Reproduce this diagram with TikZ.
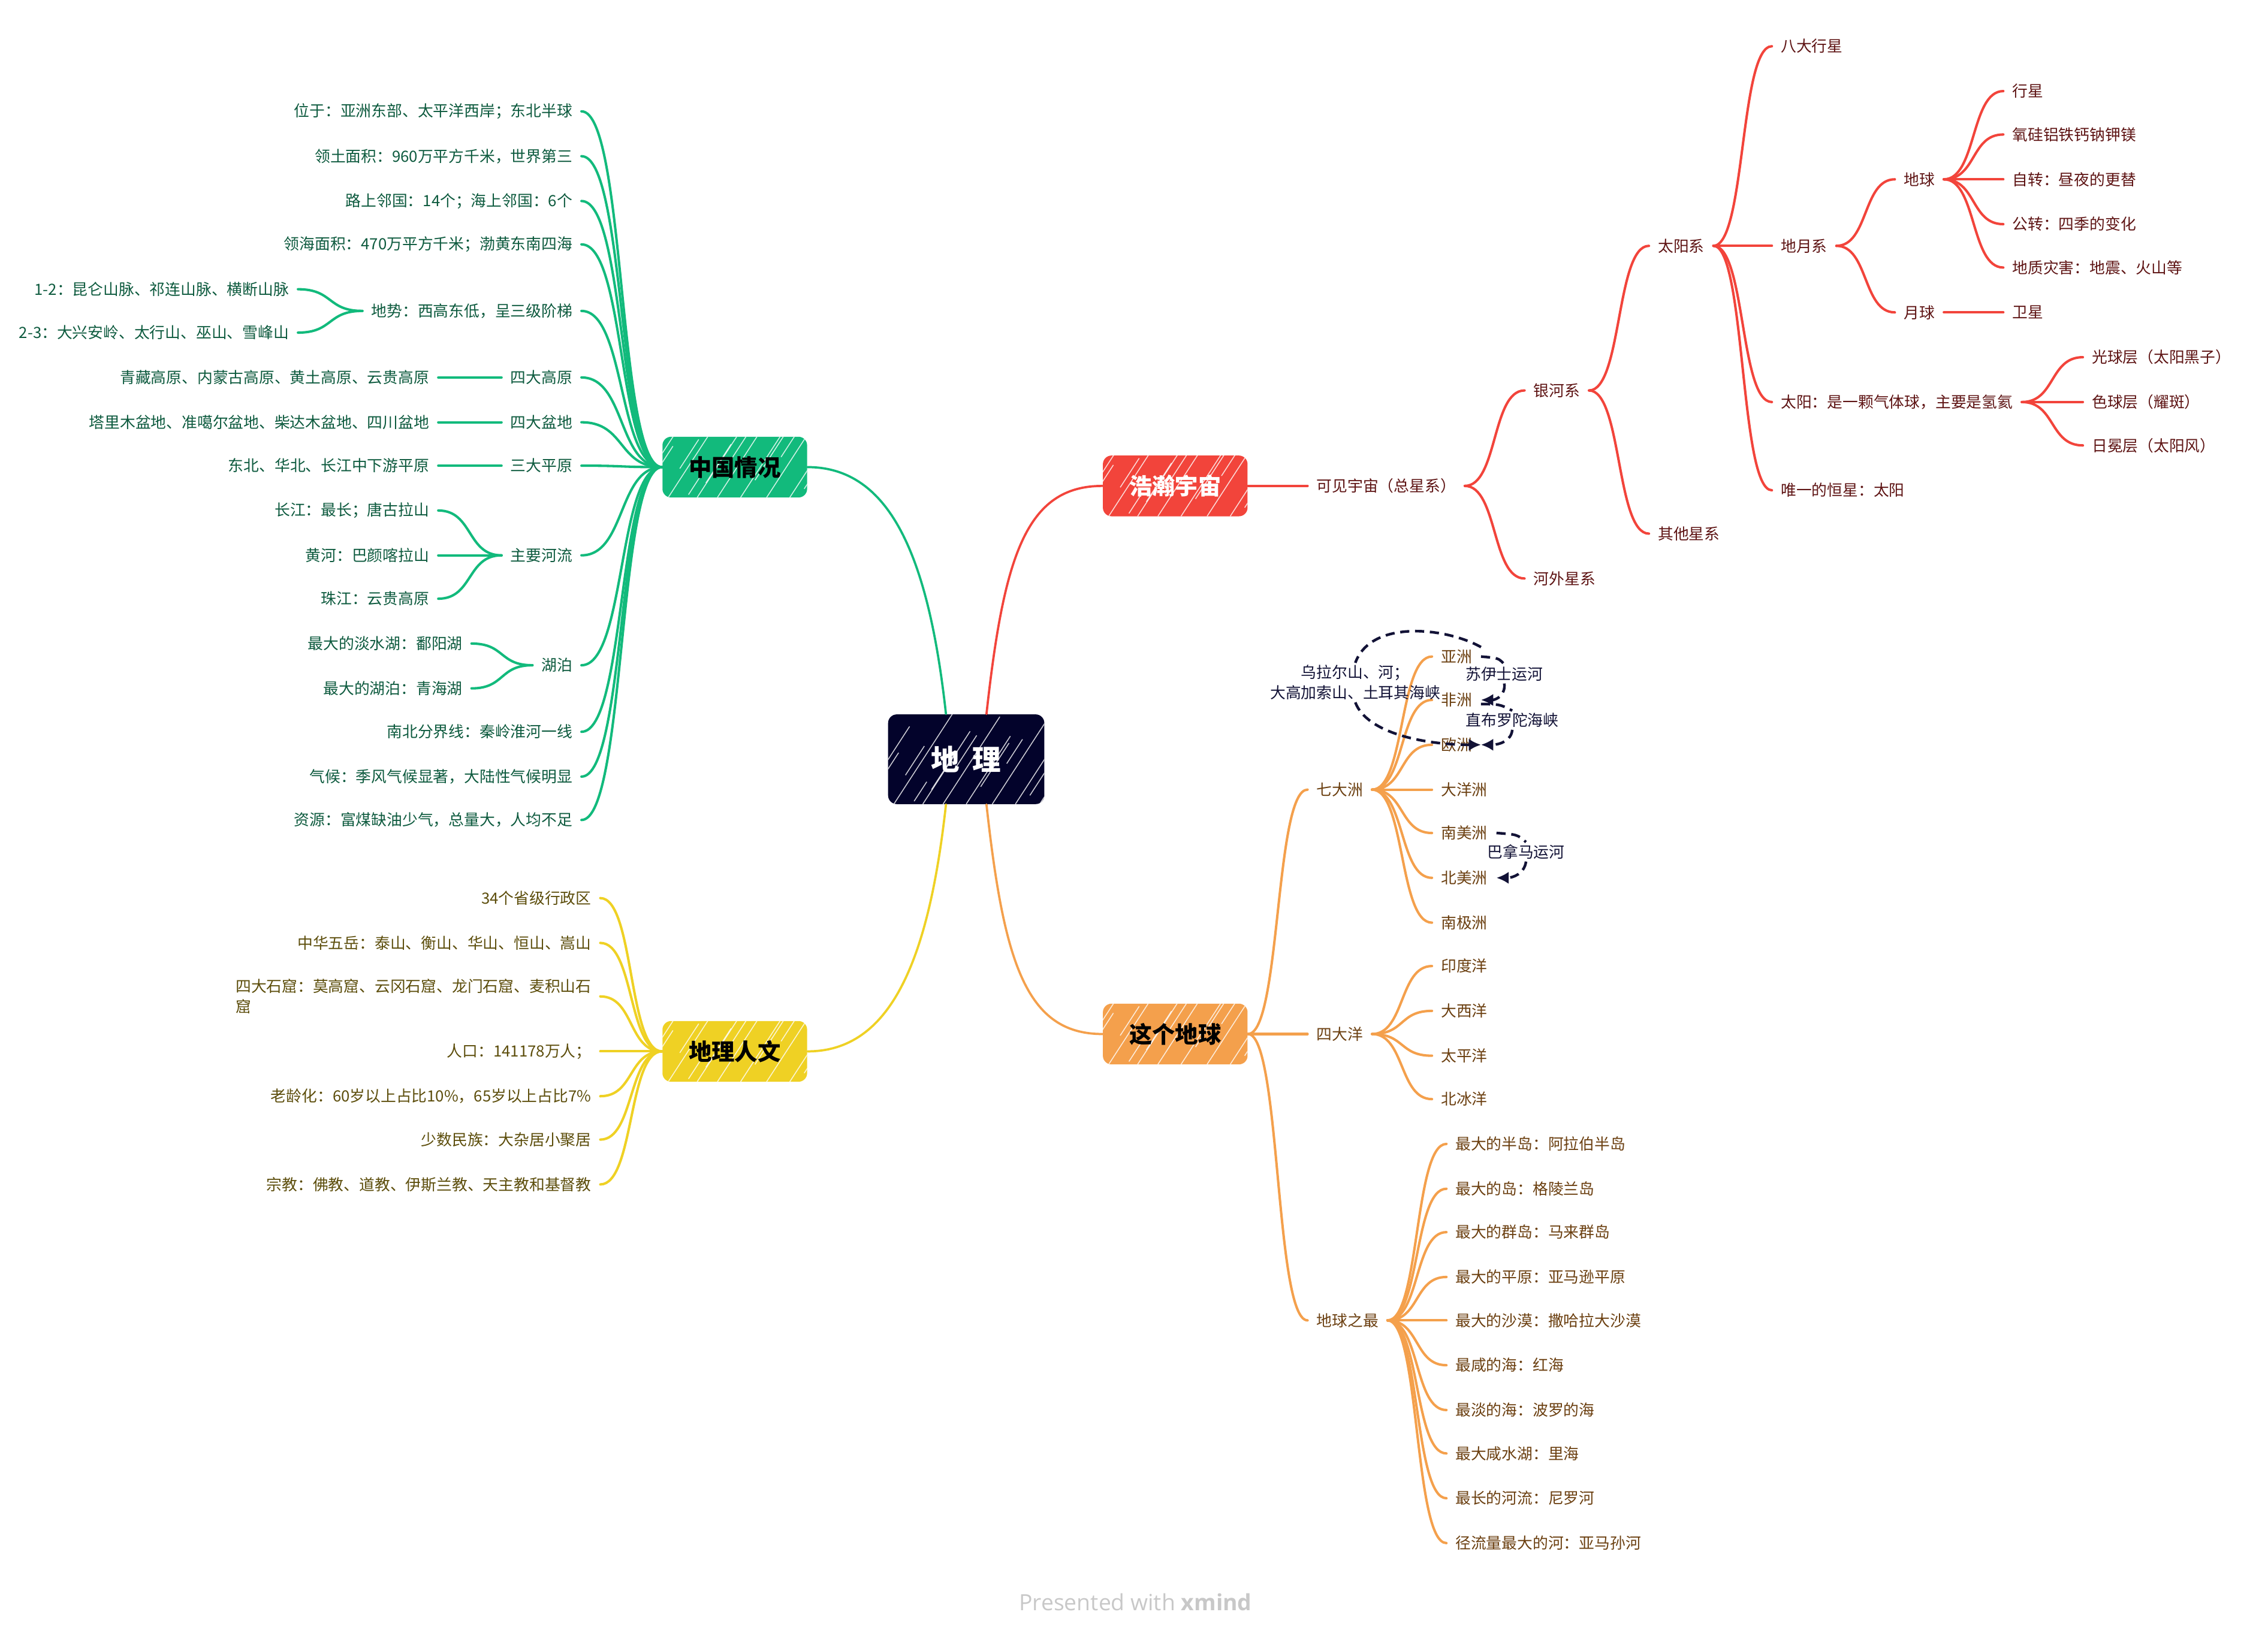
\documentclass[tikz,border=0pt]{standalone}
\usepackage{fontspec}
\usepackage{xcolor}
\usepackage{tikz}
\usetikzlibrary{arrows.meta, calc}
\setmainfont{Noto Sans CJK SC}
\newfontfamily\creditfont{Open Sans}
\definecolor{geonavy}{HTML}{03032B}
\definecolor{geogreen}{HTML}{12BA7C}
\definecolor{geored}{HTML}{F2443B}
\definecolor{geoorange}{HTML}{F4A04C}
\definecolor{geoyellow}{HTML}{EFD124}
\definecolor{greentext}{HTML}{0D5A3E}
\definecolor{redtext}{HTML}{5E1414}
\definecolor{orangetext}{HTML}{6B3F10}
\definecolor{yellowtext}{HTML}{5C4D0B}
\definecolor{relnavy}{HTML}{121236}
\definecolor{creditgray}{HTML}{C8C8C8}
\newcommand{\leaffont}{\fontsize{7.6}{10}\selectfont}
\tikzstyle{hatch} = [path picture={
    \foreach \s/\t/\l in {-0.5/0/1.6, -0.2/0.3/0.7, 0.1/0/1.9, 0.3/0.5/0.6, 0.45/0.05/0.4, 0.6/0/1.5, 0.75/0.25/0.8, 0.95/0/1.8, 1.15/0.6/0.7, 1.35/0/1.4, 1.6/0.3/0.9, 1.8/0/1.9, 2.05/0.7/0.5, 2.2/0/1.1, 2.45/0.15/0.7, 2.62/0/0.6}
        \draw[white, line width=0.45pt, opacity=0.8] ([xshift=\s cm, yshift=\t cm]path picture bounding box.south west) -- ++(57:\l cm);
}]
\tikzstyle{topic} = [rounded corners=0.15cm, minimum width=2.5cm, minimum height=1.05cm, inner sep=0pt, font=\fontsize{11.3}{13}\selectfont\bfseries, hatch]
\tikzstyle{leaf} = [inner xsep=4.25pt, inner ysep=1pt, font=\leaffont]
\tikzstyle{gleaf} = [leaf, anchor=east, text=greentext]
\tikzstyle{yleaf} = [leaf, anchor=east, text=yellowtext]
\tikzstyle{rleaf} = [leaf, anchor=west, text=redtext]
\tikzstyle{oleaf} = [leaf, anchor=west, text=orangetext]
\tikzstyle{twig} = [to path={let \p1=(\tikztostart), \p2=(\tikztotarget) in .. controls ({\x1+0.55*(\x2-\x1)},\y1) and ({\x1+0.45*(\x2-\x1)},\y2) .. (\tikztotarget)}]
\tikzstyle{gline} = [draw=geogreen, line width=1.2pt, line cap=round]
\tikzstyle{yline} = [draw=geoyellow, line width=1.2pt, line cap=round]
\tikzstyle{rline} = [draw=geored, line width=1.2pt, line cap=round]
\tikzstyle{oline} = [draw=geoorange, line width=1.2pt, line cap=round]
\tikzstyle{rel} = [draw=relnavy, line width=1.3pt, dash pattern=on 4.5pt off 2.8pt]
\tikzstyle{reltip} = [-{Latex[length=6pt,width=6pt]}]
\tikzstyle{reltxt} = [text=relnavy, font=\leaffont, inner sep=1pt, align=center]

\begin{document}
\begin{tikzpicture}[x=0.025cm, y=-0.025cm]
    \useasboundingbox (0,0) rectangle (1568,1129);

    \node[topic, fill=geonavy, text=white, minimum width=2.7cm, minimum height=1.55cm, font=\fontsize{14}{16}\selectfont\bfseries] (geo) at (668,525) {地\hspace{0.45em}理};
    \node[topic, fill=geogreen, text=black] (china) at (508,323) {中国情况};
    \node[topic, fill=geoyellow, text=black] (human) at (508,727) {地理人文};
    \node[topic, fill=geored, text=white] (cosmos) at (812.5,336) {浩瀚宇宙};
    \node[topic, fill=geoorange, text=black] (earth) at (812.5,715) {这个地球};

    \draw[gline, line width=1.1pt] ([xshift=-0.35cm]geo.north) .. controls +(-0.3cm,2.725cm) and +(1.425cm,0) .. (china.east);
    \draw[rline, line width=1.1pt] ([xshift=0.35cm]geo.north) .. controls +(0.3cm,2.725cm) and +(-1.325cm,0) .. (cosmos.west);
    \draw[yline, line width=1.1pt] ([xshift=-0.35cm]geo.south) .. controls +(-0.3cm,-2.725cm) and +(1.425cm,0) .. (human.east);
    \draw[oline, line width=1.1pt] ([xshift=0.35cm]geo.south) .. controls +(0.3cm,-2.725cm) and +(-1.325cm,0) .. (earth.west);

    % 中国情况
    \node[gleaf] (g1) at (402,77) {位于：亚洲东部、太平洋西岸；东北半球};
    \node[gleaf] (g2) at (402,108) {领土面积：960万平方千米，世界第三};
    \node[gleaf] (g3) at (402,139) {路上邻国：14个；海上邻国：6个};
    \node[gleaf] (g4) at (402,169) {领海面积：470万平方千米；渤黄东南四海};
    \node[gleaf] (g5) at (402,215) {地势：西高东低，呈三级阶梯};
    \node[gleaf] (g6) at (402,261) {四大高原};
    \node[gleaf] (g7) at (402,292) {四大盆地};
    \node[gleaf] (g8) at (402,322) {三大平原};
    \node[gleaf] (g9) at (402,384) {主要河流};
    \node[gleaf] (g10) at (402,460) {湖泊};
    \node[gleaf] (g11) at (402,506) {南北分界线：秦岭淮河一线};
    \node[gleaf] (g12) at (402,537) {气候：季风气候显著，大陆性气候明显};
    \node[gleaf] (g13) at (402,567) {资源：富煤缺油少气，总量大，人均不足};
    \node[gleaf] (g5a) at (206,200) {1-2：昆仑山脉、祁连山脉、横断山脉};
    \node[gleaf] (g5b) at (206,230) {2-3：大兴安岭、太行山、巫山、雪峰山};
    \node[gleaf] (g6a) at (303,261) {青藏高原、内蒙古高原、黄土高原、云贵高原};
    \node[gleaf] (g7a) at (303,292) {塔里木盆地、准噶尔盆地、柴达木盆地、四川盆地};
    \node[gleaf] (g8a) at (303,322) {东北、华北、长江中下游平原};
    \node[gleaf] (g9a) at (303,353) {长江：最长；唐古拉山};
    \node[gleaf] (g9b) at (303,384) {黄河：巴颜喀拉山};
    \node[gleaf] (g9c) at (303,414) {珠江：云贵高原};
    \node[gleaf] (g10a) at (326,445) {最大的淡水湖：鄱阳湖};
    \node[gleaf] (g10b) at (326,476) {最大的湖泊：青海湖};
    \foreach \k in {g1,g2,g3,g4,g5,g6,g7,g8,g9,g10,g11,g12,g13}
        \draw[gline] (china.west) to[twig] (\k.east);
    \foreach \a/\b in {g5/g5a, g5/g5b, g6/g6a, g7/g7a, g8/g8a, g9/g9a, g9/g9b, g9/g9c, g10/g10a, g10/g10b}
        \draw[gline] (\a.west) to[twig] (\b.east);

    % 地理人文
    \node[yleaf] (y1) at (415,621) {34个省级行政区};
    \node[yleaf] (y2) at (415,652) {中华五岳：泰山、衡山、华山、恒山、嵩山};
    \node[yleaf, align=left] (y3) at (415,689) {四大石窟：莫高窟、云冈石窟、龙门石窟、麦积山石\\窟};
    \node[yleaf] (y4) at (415,727) {人口：141178万人；};
    \node[yleaf] (y5) at (415,758) {老龄化：60岁以上占比10\%，65岁以上占比7\%};
    \node[yleaf] (y6) at (415,788) {少数民族：大杂居小聚居};
    \node[yleaf] (y7) at (415,819) {宗教：佛教、道教、伊斯兰教、天主教和基督教};
    \foreach \k in {y1,y2,y3,y4,y5,y6,y7}
        \draw[yline] (human.west) to[twig] (\k.east);

    % 浩瀚宇宙
    \node[rleaf] (r1) at (904,336) {可见宇宙（总星系）};
    \node[rleaf] (r2) at (1054,270) {银河系};
    \node[rleaf] (r3) at (1054,400) {河外星系};
    \node[rleaf] (r4) at (1140,170) {太阳系};
    \node[rleaf] (r5) at (1140,369) {其他星系};
    \node[rleaf] (r6) at (1225,32) {八大行星};
    \node[rleaf] (r7) at (1225,170) {地月系};
    \node[rleaf] (r8) at (1225,278) {太阳：是一颗气体球，主要是氢氦};
    \node[rleaf] (r9) at (1225,339) {唯一的恒星：太阳};
    \node[rleaf] (r10) at (1310,124) {地球};
    \node[rleaf] (r11) at (1310,216) {月球};
    \node[rleaf] (r12) at (1385,63) {行星};
    \node[rleaf] (r13) at (1385,93) {氧硅铝铁钙钠钾镁};
    \node[rleaf] (r14) at (1385,124) {自转：昼夜的更替};
    \node[rleaf] (r15) at (1385,155) {公转：四季的变化};
    \node[rleaf] (r16) at (1385,185) {地质灾害：地震、火山等};
    \node[rleaf] (r17) at (1385,216) {卫星};
    \node[rleaf] (r18) at (1440,247) {光球层（太阳黑子）};
    \node[rleaf] (r19) at (1440,278) {色球层（耀斑）};
    \node[rleaf] (r20) at (1440,308) {日冕层（太阳风）};
    \draw[rline] (cosmos.east) to[twig] (r1.west);
    \foreach \a/\b in {r1/r2, r1/r3, r2/r4, r2/r5, r4/r6, r4/r7, r4/r8, r4/r9, r7/r10, r7/r11, r10/r12, r10/r13, r10/r14, r10/r15, r10/r16, r11/r17, r8/r18, r8/r19, r8/r20}
        \draw[rline] (\a.east) to[twig] (\b.west);

    % 这个地球
    \node[oleaf] (o1) at (904,546) {七大洲};
    \node[oleaf] (o2) at (904,715) {四大洋};
    \node[oleaf] (o3) at (904,913) {地球之最};
    \node[oleaf] (asia) at (990,454) {亚洲};
    \node[oleaf] (africa) at (990,484) {非洲};
    \node[oleaf] (europe) at (990,515) {欧洲};
    \node[oleaf] (oceania) at (990,546) {大洋洲};
    \node[oleaf] (samerica) at (990,576) {南美洲};
    \node[oleaf] (namerica) at (990,607) {北美洲};
    \node[oleaf] (antarctica) at (990,638) {南极洲};
    \node[oleaf] (indian) at (990,668) {印度洋};
    \node[oleaf] (atlantic) at (990,699) {大西洋};
    \node[oleaf] (pacific) at (990,730) {太平洋};
    \node[oleaf] (arctic) at (990,760) {北冰洋};
    \node[oleaf] (m1) at (1000,791) {最大的半岛：阿拉伯半岛};
    \node[oleaf] (m2) at (1000,822) {最大的岛：格陵兰岛};
    \node[oleaf] (m3) at (1000,852) {最大的群岛：马来群岛};
    \node[oleaf] (m4) at (1000,883) {最大的平原：亚马逊平原};
    \node[oleaf] (m5) at (1000,913) {最大的沙漠：撒哈拉大沙漠};
    \node[oleaf] (m6) at (1000,944) {最咸的海：红海};
    \node[oleaf] (m7) at (1000,975) {最淡的海：波罗的海};
    \node[oleaf] (m8) at (1000,1005) {最大咸水湖：里海};
    \node[oleaf] (m9) at (1000,1036) {最长的河流：尼罗河};
    \node[oleaf] (m10) at (1000,1067) {径流量最大的河：亚马孙河};
    \foreach \k in {o1,o2,o3}
        \draw[oline] (earth.east) to[twig] (\k.west);
    \foreach \k in {asia,africa,europe,oceania,samerica,namerica,antarctica}
        \draw[oline] (o1.east) to[twig] (\k.west);
    \foreach \k in {indian,atlantic,pacific,arctic}
        \draw[oline] (o2.east) to[twig] (\k.west);
    \foreach \k in {m1,m2,m3,m4,m5,m6,m7,m8,m9,m10}
        \draw[oline] (o3.east) to[twig] (\k.west);

    % 联系
    \node[reltxt] (ural) at (937,472) {乌拉尔山、河；\\大高加索山、土耳其海峡};
    \node[reltxt] (suez) at (1040,466) {苏伊士运河};
    \node[reltxt] (gibr) at (1045.5,498) {直布罗陀海峡};
    \node[reltxt] (panama) at (1055,589) {巴拿马运河};
    \draw[rel] (asia.north east) .. controls (1000,434) and (948,428) .. (ural.north);
    \draw[rel, reltip] (ural.south) .. controls (945,507) and (985,515) .. (europe.east);
    \draw[rel] (asia.east) .. controls (1036,455) .. (suez.north);
    \draw[rel, reltip] (suez.south) .. controls (1041,480) and (1035,484) .. (africa.east);
    \draw[rel] ([yshift=-2pt]africa.east) .. controls (1037,487) .. (gibr.north);
    \draw[rel, reltip] (gibr.south) .. controls (1045,512) and (1037,515) .. (europe.east);
    \draw[rel] (samerica.east) .. controls (1049,577) .. (panama.north);
    \draw[rel, reltip] (panama.south) .. controls (1054,604) and (1046,607) .. (namerica.east);

    \node[text=creditgray, font=\creditfont\fontsize{11}{13}\selectfont] (credit) at (785,1108) {Presented with \textbf{xmind}};
\end{tikzpicture}
\end{document}
